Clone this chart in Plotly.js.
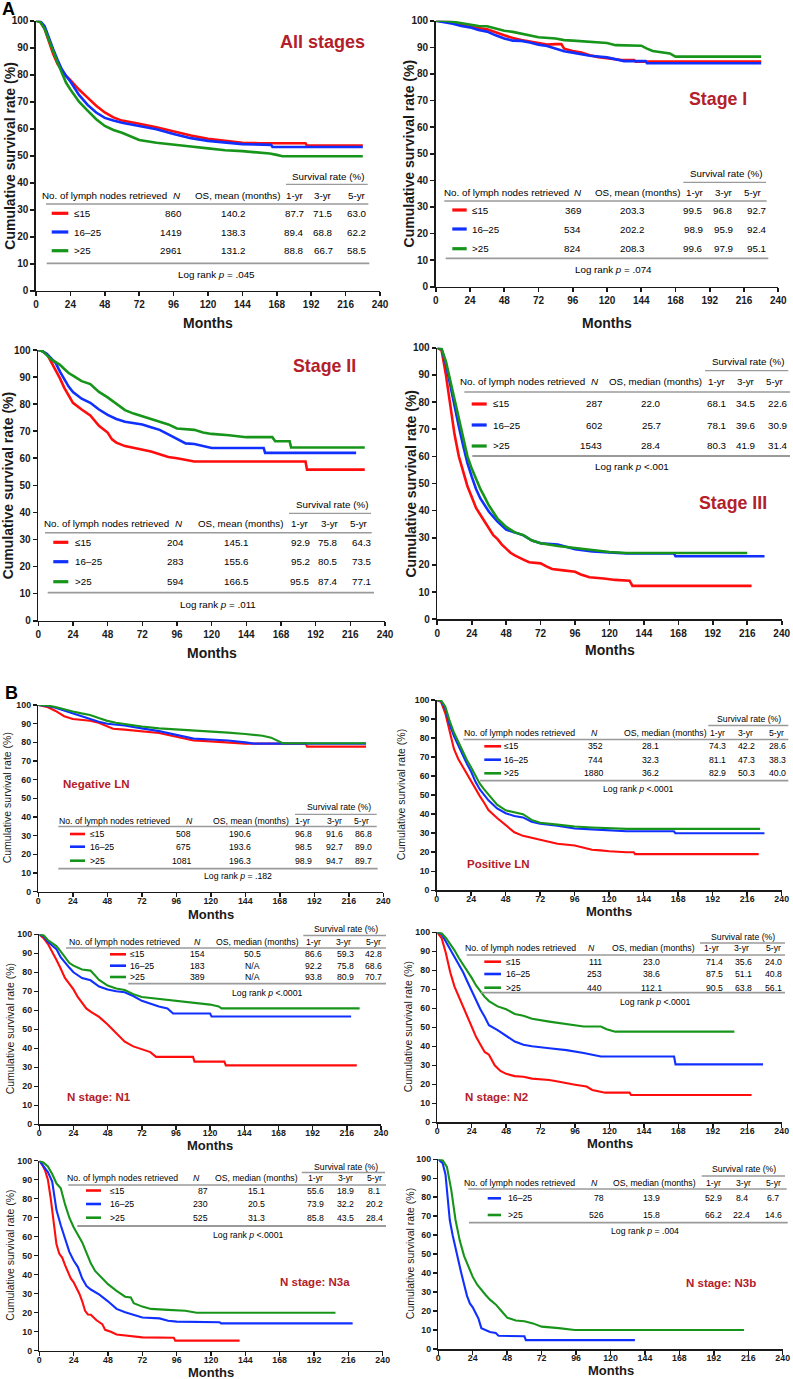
<!DOCTYPE html>
<html><head><meta charset="utf-8">
<script src="https://cdn.plot.ly/plotly-3.0.1.min.js"></script>
<style>html,body{margin:0;padding:0;background:#fff}#chart{width:793px;height:1379px}</style>
</head><body><div id="chart"></div>
<script>
// ---------------- DATA ----------------
const xTickVals = [0,24,48,72,96,120,144,168,192,216,240];
const yTickVals = [0,10,20,30,40,50,60,70,80,90,100];
const groupLabels3 = ['≤15','16–25','>25'];
const groupLabels2 = ['16–25','>25'];
const rateHeaders = ['1-yr','3-yr','5-yr'];

// All stages
const allLe15 = [[0,100],[3,99.5],[6,97],[9,92],[12,87.7],[15,84],[18,81.5],[21,79.5],[24,78],[30,74.5],[36,71.5],[42,68.5],[48,66],[54,64.2],[60,63],[66,62.3],[72,61.8],[84,60.5],[96,59],[108,57.5],[120,56.3],[132,55.5],[144,54.8],[156,54.6],[168,54.6],[188,54.6],[189,53.8],[228,53.8]];
const all16to25 = [[0,100],[3,99.8],[6,98],[9,93.5],[12,89.4],[15,85.5],[18,82],[21,79.5],[24,77.5],[30,72.5],[36,68.8],[42,66],[48,64],[54,63],[60,62.2],[72,61],[84,59.8],[96,58],[108,56.5],[120,55.5],[132,54.8],[144,54.3],[164,54],[165,53.2],[228,53.2]];
const allGt25 = [[0,100],[3,99.5],[6,97],[9,92.5],[12,88.8],[15,84.5],[18,80.5],[21,77],[24,74.5],[30,70],[36,66.7],[42,63.5],[48,61],[54,59.5],[60,58.5],[72,55.8],[84,54.8],[96,54],[108,53.4],[120,52.7],[132,52],[144,51.7],[156,51.3],[163,50.8],[168,50.3],[172,49.8],[228,49.8]];
const allN = ['860','1419','2961'];
const allOS = ['140.2','138.3','131.2'];
const allRates = [['87.7','71.5','63.0'],['89.4','68.8','62.2'],['88.8','66.7','58.5']];

// Stage I
const s1Le15 = [[0,100],[6,99.8],[12,99.5],[18,98.5],[24,97.8],[30,97.2],[36,96.8],[42,95.5],[48,94.5],[54,93.5],[60,92.7],[66,92.2],[72,91.5],[78,91],[84,91.2],[88,91.2],[90,89.5],[96,88.6],[102,88],[108,87],[114,86.3],[120,85.8],[130,85.2],[139,85.2],[140,84.6],[228,84.6]];
const s116to25 = [[0,100],[6,99.5],[12,98.9],[18,98],[24,97.5],[30,96.5],[36,95.9],[42,94.5],[48,93.3],[54,92.5],[60,92.4],[66,91.8],[72,91],[78,90.5],[84,89.5],[90,88.5],[96,88],[102,87.4],[108,86.8],[120,86.2],[126,85.5],[132,84.8],[147,84.8],[148,84],[228,84]];
const s1Gt25 = [[0,100],[6,100],[12,99.6],[18,99],[24,98.6],[30,98],[36,97.9],[42,97],[48,96.2],[54,95.8],[60,95.1],[66,94.5],[72,93.8],[84,93.3],[90,92.7],[96,92.5],[108,92],[120,91.6],[126,90.8],[144,90.6],[148,89.5],[152,88.6],[164,87.7],[168,86.5],[228,86.5]];
const s1N = ['369','534','824'];
const s1OS = ['203.3','202.2','208.3'];
const s1Rates = [['99.5','96.8','92.7'],['98.9','95.9','92.4'],['99.6','97.9','95.1']];

// Stage II
const s2Le15 = [[0,100],[3,99.5],[6,98.5],[9,95.5],[12,92.9],[15,89.5],[18,86],[21,83],[24,80.5],[30,78],[36,75.8],[42,72],[48,69.5],[51,67],[54,65.8],[60,64.5],[66,63.8],[72,63],[78,62.5],[84,61.5],[90,60.5],[96,60],[102,59.3],[108,58.8],[185,58.8],[186,55.8],[226,55.8]];
const s216to25 = [[0,100],[3,99.5],[6,98.5],[9,97],[12,95.2],[15,92],[18,89],[21,86.5],[24,84.5],[30,82],[36,80.5],[42,78],[48,76],[54,74.5],[60,73.5],[66,73],[72,72.5],[78,71.5],[84,70.5],[90,68.8],[96,67],[102,65.5],[108,65.3],[114,64.5],[120,63.8],[156,63.8],[157,62],[220,62]];
const s2Gt25 = [[0,100],[3,99.5],[6,98],[9,96.5],[12,95.5],[15,94.5],[18,93],[21,91.5],[24,90.5],[30,88.5],[36,87.4],[42,84.5],[48,82.5],[54,80],[60,77.8],[66,76.5],[72,75.5],[78,74.5],[84,73.5],[90,72.5],[96,71],[108,70.5],[114,69.5],[120,69],[132,68.5],[144,67.8],[162,67.8],[164,66.3],[174,66.3],[175,64],[226,64]];
const s2N = ['204','283','594'];
const s2OS = ['145.1','155.6','166.5'];
const s2Rates = [['92.9','75.8','64.3'],['95.2','80.5','73.5'],['95.5','87.4','77.1']];

// Stage III
const s3Le15 = [[0,100],[3,99],[6,90],[9,78],[12,68.1],[15,60],[18,54],[21,49],[24,45],[27,41],[30,38.5],[33,36],[36,34],[39,31],[42,29.5],[45,27.5],[48,26],[51,24.5],[54,23.5],[57,22.6],[60,22],[64,21],[72,20.6],[76,19.5],[80,18.5],[88,18],[96,17.5],[100,16.5],[106,15.5],[116,15],[124,14.5],[134,14.2],[136,12.3],[219,12.3]];
const s316to25 = [[0,100],[3,99.5],[6,94],[9,86],[12,78.1],[15,71],[18,64],[21,57.5],[24,52.5],[27,48],[30,44.5],[33,42],[36,39.6],[42,36],[48,33],[54,32],[60,30.9],[66,29],[72,28],[84,27.5],[96,25.8],[108,25],[120,24.5],[132,24.2],[165,24.2],[166,23.2],[228,23.2]];
const s3Gt25 = [[0,100],[3,99.5],[6,95],[9,88],[12,80.3],[15,73],[18,66.5],[21,60],[24,55.5],[27,51.5],[30,48],[33,45],[36,41.9],[42,37],[48,34],[54,32],[60,31],[66,29],[72,28],[84,27],[96,26.2],[108,25.4],[120,24.8],[132,24.4],[216,24.4]];
const s3N = ['287','602','1543'];
const s3OS = ['22.0','25.7','28.4'];
const s3Rates = [['68.1','34.5','22.6'],['78.1','39.6','30.9'],['80.3','41.9','31.4']];

// Negative LN
const negLe15 = [[0,100],[6,99],[12,96.8],[18,94],[24,92.5],[30,92],[36,91.6],[42,90.5],[48,88.5],[52,87.3],[60,86.8],[72,86],[84,85],[96,83],[102,82],[108,81],[120,80.5],[132,80],[144,79.3],[186,79.3],[187,77.7],[228,77.7]];
const neg16to25 = [[0,100],[6,99.5],[12,98.5],[18,97],[24,95.5],[30,94],[36,92.7],[42,91],[48,90],[54,89.5],[60,89],[72,87.5],[84,86],[96,84],[102,83],[108,82],[120,81.5],[132,81],[144,80],[150,79.3],[228,79.3]];
const negGt25 = [[0,100],[6,99.8],[12,98.9],[18,97.5],[24,96.5],[30,95.5],[36,94.7],[42,93],[48,91.5],[54,90.5],[60,89.7],[72,88.5],[84,87.5],[96,87],[108,86.3],[120,86],[132,85.2],[144,84.5],[156,83.5],[162,82.5],[166,81],[170,79.5],[228,79.5]];
const negN = ['508','675','1081'];
const negOS = ['190.6','193.6','196.3'];
const negRates = [['96.8','91.6','86.8'],['98.5','92.7','89.0'],['98.9','94.7','89.7']];

// Positive LN
const posLe15 = [[0,100],[3,99],[6,93],[9,83],[12,74.3],[15,69],[18,65],[21,61],[24,57.5],[27,53],[30,49.5],[33,46],[36,42.2],[42,38],[48,34],[54,30.5],[60,28.6],[66,27.5],[72,26.5],[78,25.5],[84,24.5],[96,23.5],[102,22.5],[108,21.3],[114,21],[120,20.5],[132,20],[137,20],[138,19],[224,19]];
const pos16to25 = [[0,100],[3,99.5],[6,95.5],[9,87],[12,81.1],[15,76],[18,71],[21,66.5],[24,62.3],[27,57],[30,53],[33,50],[36,47.3],[42,43],[48,40.5],[54,39],[60,38.3],[66,36],[72,35],[84,34],[96,32.5],[108,32],[120,31.5],[132,31],[165,31],[166,30],[228,30]];
const posGt25 = [[0,100],[3,99.8],[6,96.5],[9,89],[12,82.9],[15,78],[18,73],[21,68.5],[24,64.5],[27,60],[30,56],[33,53],[36,50.3],[42,45],[48,42],[54,41],[60,40],[66,37],[72,35.5],[84,34.5],[96,33.5],[108,33],[120,32.5],[132,32.3],[225,32.3]];
const posN = ['352','744','1880'];
const posOS = ['28.1','32.3','36.2'];
const posRates = [['74.3','42.2','28.6'],['81.1','47.3','38.3'],['82.9','50.3','40.0']];

// N1
const n1Le15 = [[0,100],[3,98],[6,95],[9,91],[12,86.6],[15,82],[18,77],[21,74],[24,71],[27,67],[30,64],[33,61],[36,59.3],[42,56.5],[48,52.5],[54,48],[60,43.5],[66,41],[72,39.5],[78,38],[82,35.5],[108,35.5],[109,33],[130,33],[131,31],[223,31]];
const n116to25 = [[0,100],[3,99],[6,96],[9,94],[12,92.2],[15,88],[18,85],[21,82.5],[24,80],[30,77],[36,75.8],[42,72.5],[48,71],[54,70],[60,69.5],[66,67.5],[72,65],[78,63.5],[84,62],[90,61],[94,58.3],[120,58.3],[121,56.7],[219,56.7]];
const n1Gt25 = [[0,100],[3,99.5],[6,97],[9,95.5],[12,93.8],[15,91],[18,88],[21,85],[24,83.5],[30,81.5],[36,80.9],[42,76],[48,73],[54,71.5],[60,70.7],[66,68.5],[72,67],[84,66],[96,65],[108,64],[120,63],[126,62],[128,61],[225,61]];
const n1N = ['154','183','389'];
const n1OS = ['50.5','N/A','N/A'];
const n1Rates = [['86.6','59.3','42.8'],['92.2','75.8','68.6'],['93.8','80.9','70.7']];

// N2
const n2Le15 = [[0,100],[3,97],[6,89],[9,79],[12,71.4],[15,66],[18,61],[21,56],[24,50],[27,45],[30,41],[33,37],[36,35.6],[40,30],[44,27],[48,25.5],[54,24.3],[60,24],[66,23],[78,22.3],[84,21.5],[90,20.5],[96,19.8],[104,18.8],[108,17],[117,15.6],[134,15.6],[135,14.4],[219,14.4]];
const n216to25 = [[0,100],[3,99],[6,95],[9,91],[12,87.5],[15,83],[18,79],[21,74],[24,69],[27,64],[30,59.5],[33,55.5],[36,51.1],[42,48.5],[48,45.5],[54,42.5],[60,40.8],[66,40],[78,39],[90,38],[102,36.5],[108,35.5],[114,34.6],[165,34.6],[166,30.5],[227,30.5]];
const n2Gt25 = [[0,100],[3,99.5],[6,97],[9,94],[12,90.5],[15,86.5],[18,83],[21,80],[24,76],[27,72],[30,69],[33,66],[36,63.8],[42,61],[48,59.5],[54,57],[60,56.1],[66,54.5],[78,53],[90,51.5],[102,50.4],[114,50.4],[118,49],[124,47.7],[207,47.7]];
const n2N = ['111','253','440'];
const n2OS = ['23.0','38.6','112.1'];
const n2Rates = [['71.4','35.6','24.0'],['87.5','51.1','40.8'],['90.5','63.8','56.1']];

// N3a
const n3aLe15 = [[0,100],[2,98],[4,95],[6,90],[8,80],[10,67],[12,56],[14,51],[16,49],[18,45],[20,41],[22,38],[24,36],[26,33],[28,30],[30,26],[32,21],[34,19],[36,18.9],[40,16],[44,14],[46,11],[50,10],[54,8.5],[60,8],[72,7],[94,6.8],[95,5.3],[140,5.3]];
const n3a16to25 = [[0,100],[3,97],[6,94],[9,89],[12,74],[15,66],[18,59],[21,52],[24,47.5],[27,44],[30,38],[33,34],[36,32.2],[42,29.5],[48,26],[54,22],[60,20.2],[66,19],[72,17.5],[84,17],[90,15.8],[96,15.3],[126,15],[127,14.4],[219,14.4]];
const n3aGt25 = [[0,100],[3,99],[6,97],[9,93],[12,88],[15,85.5],[18,77],[21,70],[24,65],[27,61],[30,57],[33,51.5],[36,46],[39,42],[42,39.5],[45,37],[48,35],[54,31.5],[60,28.4],[64,28],[66,25],[72,23.2],[78,22],[90,21.5],[102,21],[110,20],[207,20]];
const n3aN = ['87','230','525'];
const n3aOS = ['15.1','20.5','31.3'];
const n3aRates = [['55.6','18.9','8.1'],['73.9','32.2','20.2'],['85.8','43.5','28.4']];

// N3b
const n3b16to25 = [[0,100],[3,98],[5,92],[6,84],[8,68],[10,60],[12,53],[14,46],[16,40],[18,34],[20,28],[22,24],[24,22],[26,19],[28,16],[30,11],[32,10.2],[36,9],[40,8.4],[42,7],[60,6.7],[61,4.7],[137,4.7]];
const n3bGt25 = [[0,100],[3,99.5],[6,96],[9,84],[12,68],[15,57],[18,49],[21,43],[24,38],[27,34],[30,31],[33,28.5],[36,26],[40,23.5],[44,20],[48,16.5],[54,15],[60,14.6],[66,13.5],[72,11.8],[84,11],[95,10],[213,10]];
const n3bN = ['78','526'];
const n3bOS = ['13.9','15.8'];
const n3bRates = [['52.9','8.4','6.7'],['66.2','22.4','14.6']];

// ---------------- LAYOUT / STYLE ----------------
const W = 793, H = 1379;
const RED = '#ff0d0d', BLUE = '#1030ff', GREEN = '#17951a';
const DARKRED = '#b3202a';
const FONT = 'Liberation Sans, Arial, Helvetica, sans-serif';
const fx = v => v / W, fy = v => 1 - v / H;

const panels = [
 {curves:[allLe15,all16to25,allGt25], colors:[RED,BLUE,GREEN], labels:groupLabels3, N:allN, OS:allOS, R:allRates,
  osHdr:'OS, mean (months)', lr:'= .045', sty:'A', box:[36,380,20.7,290.7], yt:10, mY:323,
  title:{t:'All stages', x:322, y:42, size:18, w:'bold'},
  tb:{sh:[328,176], sl:[286,367.7,184.3], hy:196, nameX:40.7, nHX:176.7, osHX:237.3, rHX:[295.3,323.3,356.7], hl:[46,368.3,204], ry:[213.3,232,250.7], ll:[51.7,68.3], lx:72.7, nR:182.7, osX:233.3, rX:[294.3,323.3,356.7], bl:[46.7,369.3,263.3], lg:[216.7,274]}},
 {curves:[s1Le15,s116to25,s1Gt25], colors:[RED,BLUE,GREEN], labels:groupLabels3, N:s1N, OS:s1OS, R:s1Rates,
  osHdr:'OS, mean (months)', lr:'= .074', sty:'A', box:[435.7,778.3,20.7,286.7], yt:408.7, mY:323,
  title:{t:'Stage I', x:718, y:99, size:17.8, w:'bold'},
  tb:{sh:[726,174], sl:[683.3,766,182.3], hy:192.7, nameX:443.3, nHX:577.7, osHX:637.7, rHX:[695,724,753.3], hl:[444.3,766.7,201], ry:[210,229,248.7], ll:[452.3,466.7], lx:471, nR:582.3, osX:632.3, rX:[693.3,723.3,756.7], bl:[445.7,768.3,258.3], lg:[613.3,270]}},
 {curves:[s2Le15,s216to25,s2Gt25], colors:[RED,BLUE,GREEN], labels:groupLabels3, N:s2N, OS:s2OS, R:s2Rates,
  osHdr:'OS, mean (months)', lr:'= .011', sty:'A', box:[38.3,385,350,620.7], yt:8, mY:653,
  title:{t:'Stage II', x:324, y:365.7, size:17.8, w:'bold'},
  tb:{sh:[331.7,505], sl:[289,371,513.3], hy:523.3, nameX:42.7, nHX:179.3, osHX:240.7, rHX:[300,330,359.3], hl:[45,371.7,532.7], ry:[542.3,561.7,581.7], ll:[53.3,68.3], lx:74, nR:185, osX:236, rX:[300,328.3,361.7], bl:[47.7,374,592.7], lg:[218.3,604]}},
 {curves:[s3Le15,s316to25,s3Gt25], colors:[RED,BLUE,GREEN], labels:groupLabels3, N:s3N, OS:s3OS, R:s3Rates,
  osHdr:'OS, median (months)', lr:'&lt;.001', sty:'A', box:[437.3,781.7,347.7,619.3], yt:410, mY:650,
  title:{t:'Stage III', x:732.7, y:503.3, size:17.8, w:'bold'},
  tb:{sh:[747.5,361.3], sl:[705,788.3,370.7], hy:381, nameX:459, nHX:595, osHX:655, rHX:[716.7,746,775], hl:[464.3,790,392], ry:[404,425,446], ll:[471.7,486.7], lx:491.7, nR:603.3, osX:651, rX:[716.7,745.7,777.7], bl:[472.3,790,456], lg:[631.7,466.7]}},
 {curves:[negLe15,neg16to25,negGt25], colors:[RED,BLUE,GREEN], labels:groupLabels3, N:negN, OS:negOS, R:negRates,
  osHdr:'OS, mean (months)', lr:'= .182', sty:'B', box:[38.3,383.3,705,891.7], yt:7, mY:914,
  title:{t:'Negative LN', x:96, y:784.3, size:11.5, w:'bold'},
  tb:{sh:[338.8,807.3], sl:[295,376.7,814.3], hy:820.7, nameX:58.3, nHX:189.3, osHX:250.7, rHX:[302.7,334.3,361.7], hl:[58.3,376.7,826.5], ry:[834,846.7,860.7], ll:[70,85], lx:89.3, nR:192.3, osX:240, rX:[303.3,334.3,363.3], bl:[58.3,377.7,868.7], lg:[238.3,876.5]}},
 {curves:[posLe15,pos16to25,posGt25], colors:[RED,BLUE,GREEN], labels:groupLabels3, N:posN, OS:posOS, R:posRates,
  osHdr:'OS, median (months)', lr:'&lt;.0001', sty:'B', box:[436.7,781.7,700,890.3], yt:401, mY:911,
  title:{t:'Positive LN', x:498.5, y:864.3, size:11.5, w:'bold'},
  tb:{sh:[749.3,719.3], sl:[708.3,788.3,725.5], hy:732.7, nameX:463.3, nHX:594.3, osHX:665, rHX:[717.7,745.7,776.7], hl:[463.3,788.3,739.5], ry:[746.3,759.7,773.3], ll:[484.3,501], lx:503.3, nR:604.3, osX:650, rX:[717.7,746.7,777.7], bl:[480,788.3,780.7], lg:[638.3,789]}},
 {curves:[n1Le15,n116to25,n1Gt25], colors:[RED,BLUE,GREEN], labels:groupLabels3, N:n1N, OS:n1OS, R:n1Rates,
  osHdr:'OS, median (months)', lr:'&lt;.0001', sty:'B', box:[39.3,381,934.3,1124.3], yt:10, mY:1145,
  title:{t:'N stage: N1', x:99, y:1096.7, size:11.5, w:'bold'},
  tb:{sh:[346.3,929.3], sl:[303.3,386,935.5], hy:942, nameX:67.7, nHX:197.3, osHX:257.7, rHX:[313.3,343.3,373.3], hl:[66,386,948], ry:[954.3,965.7,977], ll:[110,126], lx:128.5, nR:206, osX:252.7, rX:[313.3,345,373.3], bl:[128.3,386,983.7], lg:[266.7,992.7]}},
 {curves:[n2Le15,n216to25,n2Gt25], colors:[RED,BLUE,GREEN], labels:groupLabels3, N:n2N, OS:n2OS, R:n2Rates,
  osHdr:'OS, median (months)', lr:'&lt;.0001', sty:'B', box:[437.3,781.7,932.3,1122.3], yt:408, mY:1143,
  title:{t:'N stage: N2', x:496.7, y:1097.3, size:11.5, w:'bold'},
  tb:{sh:[743.3,937.3], sl:[700,785,943], hy:947.7, nameX:464, nHX:591.7, osHX:653.3, rHX:[711.7,741.7,773.3], hl:[466.7,785,955], ry:[961.7,974,987.7], ll:[484.3,501], lx:505, nR:603.3, osX:651, rX:[714.3,743.3,773.3], bl:[481,785,992.7], lg:[655,1001.7]}},
 {curves:[n3aLe15,n3a16to25,n3aGt25], colors:[RED,BLUE,GREEN], labels:groupLabels3, N:n3aN, OS:n3aOS, R:n3aRates,
  osHdr:'OS, median (months)', lr:'&lt;.0001', sty:'B', box:[39.3,382.7,1160.7,1350.7], yt:10, mY:1372,
  title:{t:'N stage: N3a', x:315, y:1281.7, size:11.5, w:'bold'},
  tb:{sh:[346.2,1166.7], sl:[301.7,385,1172.5], hy:1178.3, nameX:66, nHX:196.7, osHX:256.7, rHX:[315,345,374], hl:[68.3,386,1185], ry:[1190.5,1204,1217.7], ll:[86,101], lx:108.5, nR:209, osX:256.7, rX:[315,345,374], bl:[77.3,386,1226], lg:[248.3,1235]}},
 {curves:[n3b16to25,n3bGt25], colors:[BLUE,GREEN], labels:groupLabels2, N:n3bN, OS:n3bOS, R:n3bRates,
  osHdr:'OS, median (months)', lr:'= .004', sty:'B', box:[438.3,782.7,1159.3,1349], yt:410, mY:1370,
  title:{t:'N stage: N3b', x:721, y:1283.3, size:11.5, w:'bold'},
  tb:{sh:[744.2,1169.3], sl:[701.7,785,1176], hy:1182.7, nameX:462.7, nHX:594, osHX:654.3, rHX:[713.3,743.3,773.3], hl:[468.3,786.7,1189], ry:[1198.3,1215], ll:[487.7,501], lx:506.7, nR:605, osX:651, rX:[713.3,741.7,773.3], bl:[469,787.7,1222.7], lg:[645,1231]}}
];

const STY = {
  A: {tick:10, tickW:'bold', xStand:0, ytitle:14, ytitleW:'bold', months:14, tbl:9.8, lw:2.6, legW:3.2, axisW:1.6},
  B: {tick:8.8, tickW:'bold', xStand:-4, ytitle:10.5, ytitleW:'normal', months:13, tbl:8.7, lw:2.1, legW:2.6, axisW:1.5}
};

const traces = [], annotations = [], shapes = [];
const layout = {width:W, height:H, margin:{l:0,r:0,t:0,b:0}, paper_bgcolor:'#fff', plot_bgcolor:'rgba(0,0,0,0)', showlegend:false, annotations, shapes};

function txt(x, y, t, o) {
  annotations.push({xref:'paper', yref:'paper', x:fx(x), y:fy(y), text:t, showarrow:false,
    xanchor:o.xa||'center', yanchor:'middle', textangle:o.ang||0, borderpad:0,
    font:{family:FONT, size:o.size, color:o.color||'#000', weight:o.w||'normal'}});
}
function hline(x0, x1, y, color, width) {
  shapes.push({type:'line', xref:'paper', yref:'paper', x0:fx(x0), x1:fx(x1), y0:fy(y), y1:fy(y), line:{color, width}});
}

panels.forEach((p, k) => {
  const i = k + 1, s = STY[p.sty];
  const xa = i === 1 ? 'xaxis' : 'xaxis' + i, ya = i === 1 ? 'yaxis' : 'yaxis' + i;
  const xr = i === 1 ? 'x' : 'x' + i, yr = i === 1 ? 'y' : 'y' + i;
  const [L, R, T, B] = p.box;
  const common = {showgrid:false, zeroline:false, showline:true, linecolor:'#1a1a1a', linewidth:s.axisW,
    ticks:'outside', ticklen:4, tickwidth:s.axisW, tickcolor:'#1a1a1a', fixedrange:true,
    tickfont:{family:FONT, size:s.tick, color:'#1a1a1a', weight:s.tickW}, tickmode:'array'};
  layout[xa] = Object.assign({}, common, {domain:[fx(L), fx(R)], range:[0,240], anchor:yr, tickvals:xTickVals, ticklabelstandoff:s.xStand});
  layout[ya] = Object.assign({}, common, {domain:[fy(B), fy(T)], range:[0,100], anchor:xr, tickvals:yTickVals});

  p.curves.forEach((c, j) => {
    traces.push({type:'scatter', mode:'lines', x:c.map(d => d[0]), y:c.map(d => d[1]), xaxis:xr, yaxis:yr,
      line:{shape:'linear', color:p.colors[j], width:s.lw}, hoverinfo:'skip', showlegend:false});
  });

  // axis titles
  txt(p.yt, (T + B) / 2, 'Cumulative survival rate (%)', {size:s.ytitle, w:s.ytitleW, ang:-90, color:'#1a1a1a'});
  txt((L + R) / 2, p.mY, 'Months', {size:s.months, w:'bold', color:'#1a1a1a'});
  // panel title
  txt(p.title.x, p.title.y, p.title.t, {size:p.title.size, w:p.title.w, color:DARKRED});

  // table
  const tb = p.tb, fs = s.tbl;
  txt(tb.sh[0], tb.sh[1], 'Survival rate (%)', {size:fs});
  hline(tb.sl[0], tb.sl[1], tb.sl[2], '#9a9a9a', 1.3);
  txt(tb.nameX, tb.hy, 'No. of lymph nodes retrieved', {size:fs, xa:'left'});
  txt(tb.nHX, tb.hy, '<i>N</i>', {size:fs});
  txt(tb.osHX, tb.hy, p.osHdr, {size:fs});
  rateHeaders.forEach((h, m) => txt(tb.rHX[m], tb.hy, h, {size:fs}));
  hline(tb.hl[0], tb.hl[1], tb.hl[2], '#9a9a9a', 1.5);
  p.labels.forEach((lab, r) => {
    const y = tb.ry[r];
    hline(tb.ll[0], tb.ll[1], y, p.colors[r], s.legW);
    txt(tb.lx, y, lab, {size:fs, xa:'left'});
    txt(tb.nR, y, p.N[r], {size:fs, xa:'right'});
    txt(tb.osX, y, p.OS[r], {size:fs});
    p.R[r].forEach((v, m) => txt(tb.rX[m], y, v, {size:fs}));
  });
  hline(tb.bl[0], tb.bl[1], tb.bl[2], '#9a9a9a', 1.8);
  txt(tb.lg[0], tb.lg[1], 'Log rank <i>p</i> ' + p.lr, {size:fs});
});

// panel letters
txt(8.5, 9, 'A', {size:18, w:'bold', color:'#000'});
txt(11.7, 692.5, 'B', {size:18, w:'bold', color:'#000'});

Plotly.newPlot('chart', traces, layout, {staticPlot:true, displayModeBar:false});
</script></body></html>
